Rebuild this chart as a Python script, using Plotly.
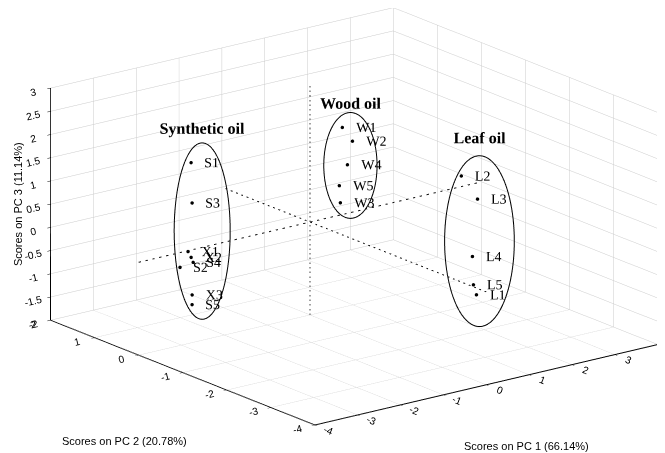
import plotly.graph_objects as go
import numpy as np

# ---- data (PCA scores) ----
syn_labels = ["S1", "S3", "X1", "X2", "S4", "S2", "X3", "S5"]
syn_pc1 = [-2.0, -2.0, -2.0, -2.0, -2.0, -2.0, -2.0, -2.0]
syn_pc2 = [0.755, 0.732, 0.824, 0.755, 0.709, 1.007, 0.732, 0.732]
syn_pc3 = [1.43, 0.57, -0.51, -0.61, -0.70, -0.92, -1.41, -1.62]

wood_labels = ["W1", "W2", "W4", "W5", "W3"]
wood_pc1 = [0.3, 0.3, 0.3, 0.3, 0.3]
wood_pc2 = [-0.440, -0.669, -0.555, -0.372, -0.395]
wood_pc3 = [2.14, 1.93, 1.38, 0.86, 0.50]

leaf_labels = ["L2", "L3", "L4", "L5", "L1"]
leaf_pc1 = [2.0, 2.0, 2.0, 2.0, 2.0]
leaf_pc2 = [-1.487, -1.854, -1.739, -1.762, -1.831]
leaf_pc3 = [1.12, 0.76, -0.52, -1.12, -1.31]

group_names = ["Synthetic oil", "Wood oil", "Leaf oil"]
# ellipse (group boundary) centre and semi-axes in score units
ell_pc1 = [-2.0, 0.3, 2.0]
ell_pc2 = [0.503, -0.624, -1.899]
ell_pc3 = [0.05, 1.39, -0.13]
ell_a = [0.41, 0.39, 0.51]
ell_b = [1.90, 1.14, 1.84]
label_gap = [0.28, 0.20, 0.39]

x_ticks = [-4, -3, -2, -1, 0, 1, 2, 3]
y_ticks = [-4, -3, -2, -1, 0, 1, 2]
z_ticks = [-2, -1.5, -1, -0.5, 0, 0.5, 1, 1.5, 2, 2.5, 3]
x_range = [-4, 4]
y_range = [-4, 2]
z_range = [-2, 3]

fig = go.Figure()

# zero reference lines through origin
fig.add_trace(go.Scatter3d(x=x_range, y=[0, 0], z=[0, 0], mode="lines",
                           line=dict(color="#111111", width=2, dash="dash"),
                           showlegend=False, hoverinfo="skip"))
fig.add_trace(go.Scatter3d(x=[0, 0], y=y_range, z=[0, 0], mode="lines",
                           line=dict(color="#111111", width=2, dash="dash"),
                           showlegend=False, hoverinfo="skip"))
fig.add_trace(go.Scatter3d(x=[0, 0], y=[0, 0], z=z_range, mode="lines",
                           line=dict(color="#444444", width=2, dash="dash"),
                           showlegend=False, hoverinfo="skip"))

serif = "Liberation Serif, Times New Roman, serif"
for lab, xs, ys, zs in [(syn_labels, syn_pc1, syn_pc2, syn_pc3),
                        (wood_labels, wood_pc1, wood_pc2, wood_pc3),
                        (leaf_labels, leaf_pc1, leaf_pc2, leaf_pc3)]:
    fig.add_trace(go.Scatter3d(x=xs, y=ys, z=zs, mode="markers+text", text=lab,
                               textposition="middle right",
                               textfont=dict(family=serif, size=14, color="black"),
                               marker=dict(size=2, color="black", symbol="circle"),
                               showlegend=False))

t = np.linspace(0, 2 * np.pi, 120)
for i, name in enumerate(group_names):
    ex = ell_pc1[i] + ell_a[i] * np.cos(t)
    ey = ell_pc2[i] - 0.578 * ell_a[i] * np.cos(t)
    ez = ell_pc3[i] + ell_b[i] * np.sin(t)
    fig.add_trace(go.Scatter3d(x=ex, y=ey, z=ez, mode="lines",
                               line=dict(color="black", width=2),
                               showlegend=False, hoverinfo="skip"))
    fig.add_trace(go.Scatter3d(x=[ell_pc1[i]], y=[ell_pc2[i]],
                               z=[ell_pc3[i] + ell_b[i] + label_gap[i]], mode="text",
                               text=["<b>" + name + "</b>"], textposition="middle center",
                               textfont=dict(family=serif, size=16, color="black"),
                               showlegend=False, hoverinfo="skip"))

axis_common = dict(showbackground=False, gridcolor="#cbcbcb", gridwidth=1,
                   showline=True, linecolor="black", linewidth=2,
                   zeroline=False, ticks="outside", tickcolor="black",
                   ticklen=4, showspikes=False, title=dict(text=""),
                   tickfont=dict(family="Liberation Sans, Arial, sans-serif",
                                 size=11, color="black"))

def tick_text(vals):
    return [("%g" % v) for v in vals]

# camera: view direction and a small pan of the look-at point
view_dir = np.array([-0.581, -0.755, 0.305])
cam_center = np.array([-0.0626, 0.0173, -0.0764])
cam_eye = cam_center + 2.0 * view_dir

title_font = dict(family="Liberation Sans, Arial", size=11, color="black")
fig.update_layout(
    width=665, height=453, paper_bgcolor="white",
    margin=dict(l=0, r=0, t=0, b=0),
    scene=dict(
        domain=dict(x=[0.0, 1.0], y=[0.0, 1.0]),
        xaxis=dict(range=x_range, tickvals=x_ticks, ticktext=tick_text(x_ticks), **axis_common),
        yaxis=dict(range=y_range, tickvals=y_ticks, ticktext=tick_text(y_ticks), **axis_common),
        zaxis=dict(range=z_range, tickvals=z_ticks, ticktext=tick_text(z_ticks), **axis_common),
        aspectmode="manual", aspectratio=dict(x=1.910, y=1.914, z=1.076),
        camera=dict(eye=dict(x=cam_eye[0], y=cam_eye[1], z=cam_eye[2]),
                    up=dict(x=0, y=0, z=1),
                    center=dict(x=cam_center[0], y=cam_center[1], z=cam_center[2]),
                    projection=dict(type="orthographic")),
        bgcolor="white",
    ),
    annotations=[
        dict(text="Scores on PC 3 (11.14%)", x=0.015, y=0.567, xref="paper", yref="paper",
             xanchor="center", yanchor="middle", textangle=-90, showarrow=False,
             font=title_font),
        dict(text="Scores on PC 2 (20.78%)", x=0.175, y=0.0445, xref="paper", yref="paper",
             xanchor="center", yanchor="middle", showarrow=False, font=title_font),
        dict(text="Scores on PC 1 (66.14%)", x=0.780, y=0.0335, xref="paper", yref="paper",
             xanchor="center", yanchor="middle", showarrow=False, font=title_font),
    ],
)

fig.write_html("out.html", config={"displayModeBar": False})
